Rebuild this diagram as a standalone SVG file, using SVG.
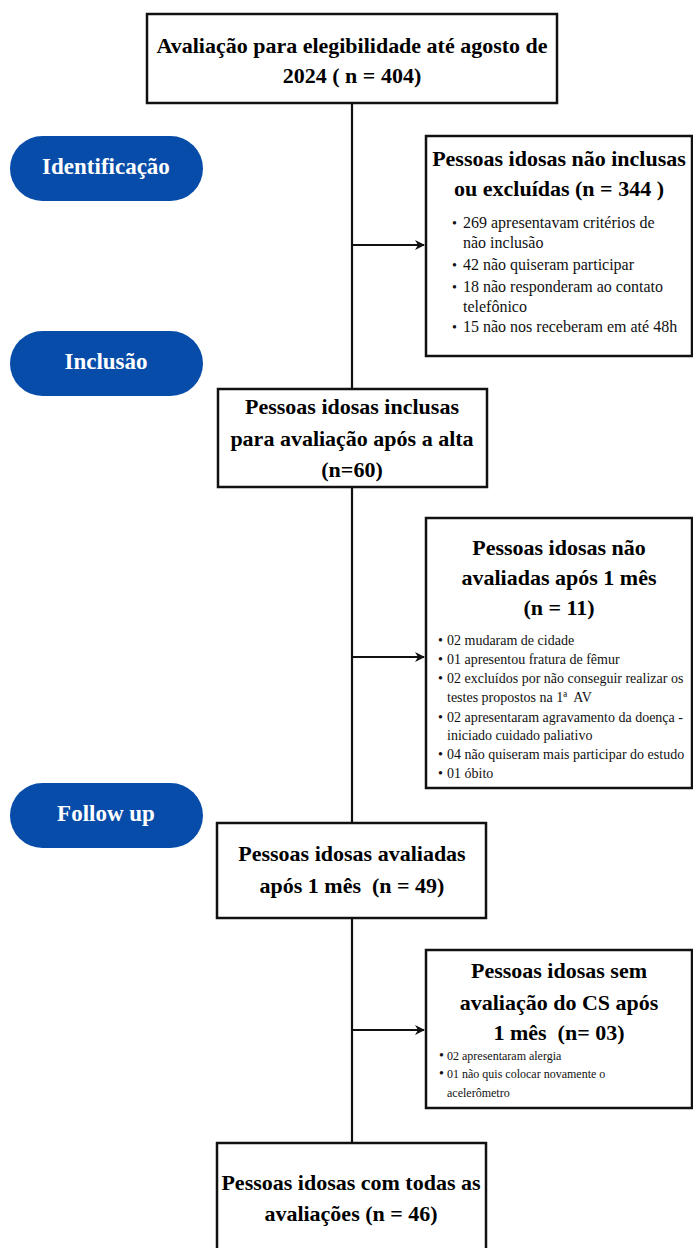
<svg xmlns="http://www.w3.org/2000/svg" width="693" height="1248" viewBox="0 0 693 1248">
<style>
.box{fill:#fff;stroke:#111;stroke-width:2.5}
.pill{fill:#064CA8}
.pt{font-family:"Liberation Serif",serif;font-weight:bold;font-size:23px;fill:#fff;text-anchor:middle}
.t{font-family:"Liberation Serif",serif;font-weight:bold;font-size:22px;fill:#000;text-anchor:middle}
.b{font-family:"Liberation Serif",serif;font-size:16px;fill:#111}
.m{font-family:"Liberation Serif",serif;font-size:14px;fill:#111}
.s{font-family:"Liberation Serif",serif;font-size:12px;fill:#111}
.dot{font-size:14px}
.ln{stroke:#111;stroke-width:2.2;fill:none}
</style>
<defs>
<marker id="ah" viewBox="0 0 10 10" refX="9" refY="5" markerWidth="10" markerHeight="10" markerUnits="userSpaceOnUse" orient="auto">
<path d="M0,0 L10,5 L0,10 L3,5 Z" fill="#111"/>
</marker>
</defs>
<g id="connectors">
<line class="ln" x1="352" y1="103" x2="352" y2="390"/>
<line class="ln" x1="352" y1="487" x2="352" y2="823"/>
<line class="ln" x1="352" y1="918" x2="352" y2="1143"/>
<line class="ln" x1="352" y1="245" x2="424" y2="245" marker-end="url(#ah)"/>
<line class="ln" x1="352" y1="657" x2="424" y2="657" marker-end="url(#ah)"/>
<line class="ln" x1="352" y1="1030" x2="424" y2="1030" marker-end="url(#ah)"/>
</g>
<g id="pill-identificacao">
<rect class="pill" x="10" y="136" width="193" height="65" rx="32.5"/>
<text class="pt" x="106" y="174">Identificação</text>
</g>
<g id="pill-inclusao">
<rect class="pill" x="10" y="331" width="193" height="65" rx="32.5"/>
<text class="pt" x="106" y="369">Inclusão</text>
</g>
<g id="pill-followup">
<rect class="pill" x="10" y="783" width="193" height="65" rx="32.5"/>
<text class="pt" x="106" y="821">Follow up</text>
</g>
<g id="box-elegibilidade">
<rect class="box" x="147" y="14" width="410" height="89"/>
<text class="t" x="352" y="53" font-size="24" textLength="391" lengthAdjust="spacingAndGlyphs">Avaliação para elegibilidade até agosto de</text>
<text class="t" x="352" y="83" font-size="24">2024 ( n = 404)</text>
</g>
<g id="box-excluidas">
<rect class="box" x="426" y="136" width="266" height="220"/>
<text class="t" x="559" y="166">Pessoas idosas não inclusas</text>
<text class="t" x="559" y="196">ou excluídas (n = 344 )</text>
<text class="b" x="452" y="228"><tspan class="dot">•</tspan><tspan x="463">269 apresentavam critérios de</tspan></text>
<text class="b" x="463" y="248">não inclusão</text>
<text class="b" x="452" y="270"><tspan class="dot">•</tspan><tspan x="463">42 não quiseram participar</tspan></text>
<text class="b" x="452" y="292"><tspan class="dot">•</tspan><tspan x="463">18 não responderam ao contato</tspan></text>
<text class="b" x="463" y="312">telefônico</text>
<text class="b" x="452" y="332"><tspan class="dot">•</tspan><tspan x="463">15 não nos receberam em até 48h</tspan></text>
</g>
<g id="box-inclusas">
<rect class="box" x="218" y="389" width="269" height="98"/>
<text class="t" x="352" y="414">Pessoas idosas inclusas</text>
<text class="t" x="352" y="446">para avaliação após a alta</text>
<text class="t" x="352" y="477">(n=60)</text>
</g>
<g id="box-nao-avaliadas">
<rect class="box" x="426" y="518" width="266" height="270"/>
<text class="t" x="559" y="555">Pessoas idosas não</text>
<text class="t" x="559" y="585">avaliadas após 1 mês</text>
<text class="t" x="559" y="615">(n = 11)</text>
<text class="m" x="438" y="645"><tspan class="dot">•</tspan><tspan x="447">02 mudaram de cidade</tspan></text>
<text class="m" x="438" y="664"><tspan class="dot">•</tspan><tspan x="447">01 apresentou fratura de fêmur</tspan></text>
<text class="m" x="438" y="683"><tspan class="dot">•</tspan><tspan x="447">02 excluídos por não conseguir realizar os</tspan></text>
<text class="m" x="447" y="702" xml:space="preserve">testes propostos na 1ª  AV</text>
<text class="m" x="438" y="722"><tspan class="dot">•</tspan><tspan x="447">02 apresentaram agravamento da doença -</tspan></text>
<text class="m" x="447" y="740">iniciado cuidado paliativo</text>
<text class="m" x="438" y="759"><tspan class="dot">•</tspan><tspan x="447">04 não quiseram mais participar do estudo</tspan></text>
<text class="m" x="438" y="778"><tspan class="dot">•</tspan><tspan x="447">01 óbito</tspan></text>
</g>
<g id="box-avaliadas">
<rect class="box" x="217" y="823" width="269" height="95"/>
<text class="t" x="352" y="861">Pessoas idosas avaliadas</text>
<text class="t" x="352" y="893" xml:space="preserve">após 1 mês  (n = 49)</text>
</g>
<g id="box-sem-cs">
<rect class="box" x="426" y="950" width="266" height="158"/>
<text class="t" x="559" y="978">Pessoas idosas sem</text>
<text class="t" x="559" y="1010">avaliação do CS após</text>
<text class="t" x="559" y="1040" xml:space="preserve">1 mês  (n= 03)</text>
<text class="s" x="439" y="1060"><tspan class="dot">•</tspan><tspan x="447">02 apresentaram alergia</tspan></text>
<text class="s" x="439" y="1078"><tspan class="dot">•</tspan><tspan x="447">01 não quis colocar novamente o</tspan></text>
<text class="s" x="447" y="1097">acelerômetro</text>
</g>
<g id="box-todas">
<rect class="box" x="217" y="1143" width="269" height="110"/>
<text class="t" x="351" y="1190">Pessoas idosas com todas as</text>
<text class="t" x="351" y="1221">avaliações (n = 46)</text>
</g>
</svg>
